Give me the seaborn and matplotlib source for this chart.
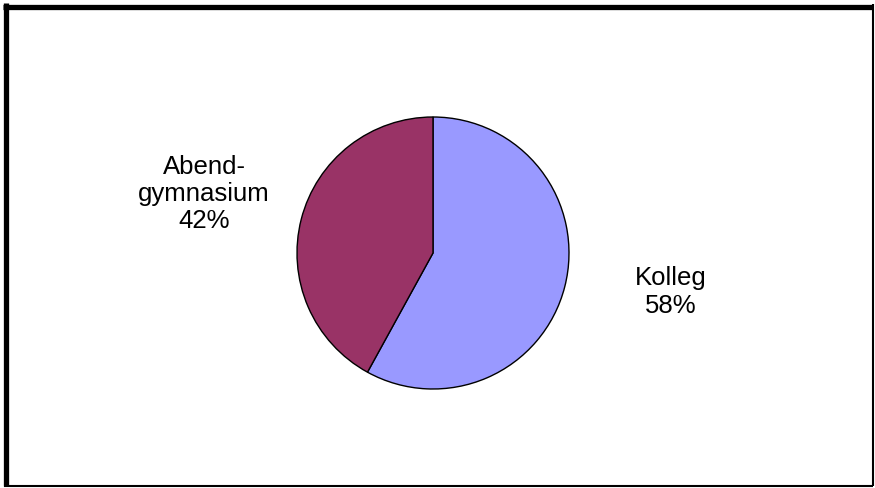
import matplotlib
matplotlib.use("Agg")
import matplotlib.pyplot as plt
from matplotlib.lines import Line2D
import seaborn as sns

# Anteile der Schulformen
labels = ["Kolleg", "Abend-\ngymnasium"]
shares = [58, 42]
colors = ["#9999FF", "#993366"]

sns.set_theme(style="white")
plt.rcParams['font.family'] = ['Liberation Sans', 'DejaVu Sans']

W, H = 875, 488
fig = plt.figure(figsize=(W / 100, H / 100), dpi=100)
fig.patch.set_facecolor("white")

# pie centre and radius in pixels
cx, cy, r = 433, 253, 136
ax = fig.add_axes([(cx - r) / W, (H - cy - r) / H, 2 * r / W, 2 * r / H])
wedges, _ = ax.pie(shares, colors=colors, startangle=90, counterclock=False,
                   wedgeprops=dict(edgecolor="black", linewidth=1))
ax.set_xlim(-1, 1)
ax.set_ylim(-1, 1)
ax.set_aspect("equal")
ax.axis("off")

label_pos = [((671 - cx) / r, (cy - 292) / r), ((204 - cx) / r, (cy - 194) / r)]
for lab, val, (x, y) in zip(labels, shares, label_pos):
    ax.text(x, y, f"{lab}\n{val}%", ha="center", va="center", fontsize=18.5,
            color="black", linespacing=1.17, clip_on=False)

# frame: thick left/top, thin right/bottom
def px(x, y):
    return x / W, 1 - y / H

for (x0, y0), (x1, y1), lw in [((5.5, 3), (5.5, 486), 3.8), ((3, 6.5), (873, 6.5), 3.8),
                               ((872.5, 4), (872.5, 486), 1.5), ((4, 485.5), (873, 485.5), 1.5)]:
    a, b = px(x0, y0)
    c, d = px(x1, y1)
    fig.add_artist(Line2D([a, c], [b, d], color="black", linewidth=lw, solid_capstyle="butt"))

fig.savefig("out.png", dpi=100, facecolor="white")
